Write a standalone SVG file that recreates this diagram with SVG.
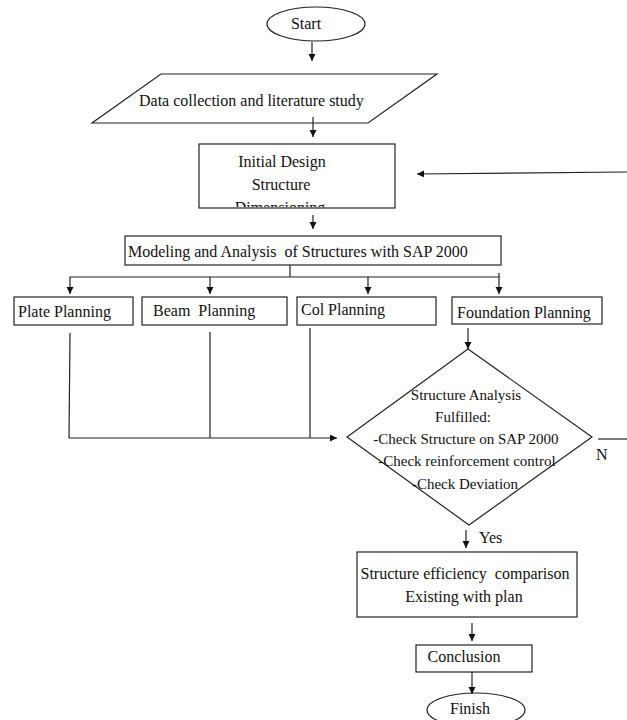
<svg xmlns="http://www.w3.org/2000/svg" width="627" height="720" viewBox="0 0 627 720">
<style>
.s{fill:#fff;stroke:#222;stroke-width:1.2}
.t{font-family:"Liberation Serif","Times New Roman",serif;font-size:16px;fill:#111;white-space:pre}
.d{font-family:"Liberation Serif","Times New Roman",serif;font-size:15px;fill:#111}
.m{text-anchor:middle}
.c{fill:none;stroke:#222;stroke-width:1.2}
</style>
<defs>
<marker id="ah" markerUnits="userSpaceOnUse" markerWidth="8" markerHeight="8" refX="7" refY="3.5" orient="auto">
<path d="M0,0 L7,3.5 L0,7 z" fill="#111"/>
</marker>
<clipPath id="clipInit"><rect x="199" y="144" width="196" height="63"/></clipPath>
</defs>

<g id="start">
<ellipse class="s" cx="316" cy="24" rx="49" ry="17"/>
<text class="t m" x="306" y="29">Start</text>
</g>

<g id="data">
<polygon class="s" points="161,74 437,74 368,123 92,123"/>
<text class="t" x="139" y="106">Data collection and literature study</text>
</g>

<g id="initial">
<rect class="s" x="199" y="144" width="196" height="64"/>
<g clip-path="url(#clipInit)">
<text class="t m" x="282" y="167">Initial Design</text>
<text class="t m" x="281" y="190">Structure</text>
<text class="t m" x="280" y="213">Dimensioning</text>
</g>
</g>

<g id="modeling">
<rect class="s" x="125" y="236" width="376" height="29"/>
<text class="t" x="128" y="257" xml:space="preserve">Modeling and Analysis  of Structures with SAP 2000</text>
</g>

<g id="plate">
<rect class="s" x="14" y="297" width="119" height="28"/>
<text class="t" x="18" y="317">Plate Planning</text>
</g>
<g id="beam">
<rect class="s" x="142" y="297" width="145" height="28"/>
<text class="t" x="153" y="316" xml:space="preserve">Beam  Planning</text>
</g>
<g id="col">
<rect class="s" x="297" y="297" width="139" height="28"/>
<text class="t" x="301" y="315">Col Planning</text>
</g>
<g id="foundation">
<rect class="s" x="452" y="297" width="150" height="27"/>
<text class="t" x="457" y="318">Foundation Planning</text>
</g>

<g id="decision">
<polygon class="s" points="468,349 592,437 469,525 347,437"/>
<text class="d m" x="466" y="400">Structure Analysis</text>
<text class="d m" x="463" y="422">Fulfilled:</text>
<text class="d m" x="466" y="444">-Check Structure on SAP 2000</text>
<text class="d m" x="467" y="466">-Check reinforcement control</text>
<text class="d m" x="465" y="489">-Check Deviation</text>
</g>

<g id="efficiency">
<rect class="s" x="357" y="552" width="220" height="65"/>
<text class="t m" x="465" y="579" xml:space="preserve">Structure efficiency  comparison</text>
<text class="t m" x="464" y="602">Existing with plan</text>
</g>

<g id="conclusion">
<rect class="s" x="416" y="645" width="116" height="27"/>
<text class="t m" x="464" y="662">Conclusion</text>
</g>

<g id="finish">
<ellipse class="s" cx="476" cy="710" rx="49" ry="17"/>
<text class="t m" x="470" y="714">Finish</text>
</g>

<g id="connectors">
<line class="c" x1="312" y1="42" x2="312" y2="61" marker-end="url(#ah)"/>
<line class="c" x1="313" y1="117" x2="313" y2="137" marker-end="url(#ah)"/>
<line class="c" x1="627" y1="172" x2="417" y2="174" marker-end="url(#ah)"/>
<line class="c" x1="313" y1="215" x2="313" y2="229" marker-end="url(#ah)"/>
<line class="c" x1="290" y1="265" x2="290" y2="277"/>
<line class="c" x1="69.5" y1="277" x2="499.5" y2="277"/>
<line class="c" x1="70" y1="277" x2="70" y2="294" marker-end="url(#ah)"/>
<line class="c" x1="210" y1="277" x2="210" y2="294" marker-end="url(#ah)"/>
<line class="c" x1="368" y1="277" x2="368" y2="294" marker-end="url(#ah)"/>
<line class="c" x1="499" y1="273" x2="499" y2="294" marker-end="url(#ah)"/>
<line class="c" x1="70" y1="333" x2="69" y2="438"/>
<line class="c" x1="210" y1="332" x2="210" y2="438"/>
<line class="c" x1="310" y1="328" x2="310" y2="438"/>
<line class="c" x1="69" y1="438" x2="337" y2="438" marker-end="url(#ah)"/>
<line class="c" x1="468" y1="328" x2="468" y2="349" marker-end="url(#ah)"/>
<line class="c" x1="598" y1="439" x2="627" y2="439"/>
<text class="t" x="596" y="460">N</text>
<line class="c" x1="466" y1="530" x2="466" y2="548" marker-end="url(#ah)"/>
<text class="t" x="479" y="543">Yes</text>
<line class="c" x1="472" y1="623" x2="472" y2="641" marker-end="url(#ah)"/>
<line class="c" x1="472" y1="672" x2="472" y2="694" marker-end="url(#ah)"/>
</g>
</svg>
